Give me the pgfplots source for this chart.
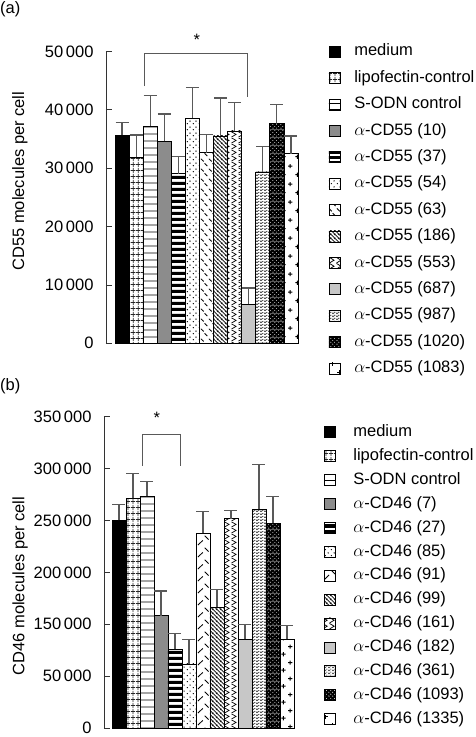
\documentclass[border=0pt]{standalone}
\usepackage{fontspec}
\setmainfont{Liberation Sans}
\usepackage{pgfplots}
\pgfplotsset{compat=1.18}
\usetikzlibrary{patterns}

\pgfdeclarepatternformonly{pgrid}{\pgfqpoint{0pt}{0pt}}{\pgfqpoint{4.5pt}{5.5pt}}{\pgfqpoint{4.5pt}{5.5pt}}{%
 \pgfsetlinewidth{0.8pt}%
 \pgfpathmoveto{\pgfqpoint{2.25pt}{0pt}}\pgfpathlineto{\pgfqpoint{2.25pt}{5.5pt}}%
 \pgfpathmoveto{\pgfqpoint{0pt}{2.75pt}}\pgfpathlineto{\pgfqpoint{4.5pt}{2.75pt}}%
 \pgfusepath{stroke}}
\pgfdeclarepatternformonly{phl}{\pgfqpoint{0pt}{0pt}}{\pgfqpoint{20pt}{6.5pt}}{\pgfqpoint{20pt}{6.5pt}}{%
 \pgfsetlinewidth{1pt}%
 \pgfpathmoveto{\pgfqpoint{-1pt}{3.25pt}}\pgfpathlineto{\pgfqpoint{21pt}{3.25pt}}%
 \pgfusepath{stroke}}
\pgfdeclarepatternformonly{pthick}{\pgfqpoint{0pt}{0pt}}{\pgfqpoint{20pt}{5.5pt}}{\pgfqpoint{20pt}{5.5pt}}{%
 \pgfpathrectangle{\pgfqpoint{-1pt}{0pt}}{\pgfqpoint{22pt}{3.5pt}}%
 \pgfusepath{fill}}
\pgfdeclarepatternformonly{pdots}{\pgfqpoint{0pt}{0pt}}{\pgfqpoint{6pt}{6pt}}{\pgfqpoint{6pt}{6pt}}{%
 \pgfpathcircle{\pgfqpoint{1.5pt}{1.5pt}}{0.75pt}%
 \pgfpathcircle{\pgfqpoint{4.5pt}{4.5pt}}{0.75pt}%
 \pgfusepath{fill}}
\pgfdeclarepatternformonly{pdash}{\pgfqpoint{0pt}{0pt}}{\pgfqpoint{8pt}{10pt}}{\pgfqpoint{8pt}{10pt}}{%
 \pgfsetlinewidth{0.9pt}%
 \pgfpathmoveto{\pgfqpoint{1pt}{9pt}}\pgfpathlineto{\pgfqpoint{4pt}{6pt}}%
 \pgfpathmoveto{\pgfqpoint{5pt}{4pt}}\pgfpathlineto{\pgfqpoint{8pt}{1pt}}%
 \pgfusepath{stroke}}
\pgfdeclarepatternformonly{pnwl}{\pgfqpoint{0pt}{0pt}}{\pgfqpoint{4.2pt}{4.2pt}}{\pgfqpoint{4.2pt}{4.2pt}}{%
 \pgfsetlinewidth{0.9pt}%
 \pgfpathmoveto{\pgfqpoint{-0.5pt}{4.7pt}}\pgfpathlineto{\pgfqpoint{4.7pt}{-0.5pt}}%
 \pgfpathmoveto{\pgfqpoint{-1pt}{1pt}}\pgfpathlineto{\pgfqpoint{1pt}{-1pt}}%
 \pgfpathmoveto{\pgfqpoint{3.2pt}{5.2pt}}\pgfpathlineto{\pgfqpoint{5.2pt}{3.2pt}}%
 \pgfusepath{stroke}}
\pgfdeclarepatternformonly{pzig}{\pgfqpoint{0pt}{0pt}}{\pgfqpoint{7pt}{6pt}}{\pgfqpoint{7pt}{6pt}}{%
 \pgfsetlinewidth{0.8pt}%
 \pgfpathmoveto{\pgfqpoint{0.5pt}{0pt}}\pgfpathlineto{\pgfqpoint{5.5pt}{3pt}}\pgfpathlineto{\pgfqpoint{0.5pt}{6pt}}%
 \pgfusepath{stroke}}
\pgfdeclarepatternformonly{pdashes}{\pgfqpoint{0pt}{0pt}}{\pgfqpoint{4pt}{3pt}}{\pgfqpoint{4pt}{3pt}}{%
 \pgfsetlinewidth{0.8pt}%
 \pgfpathmoveto{\pgfqpoint{0pt}{0.75pt}}\pgfpathlineto{\pgfqpoint{2.4pt}{0.75pt}}%
 \pgfpathmoveto{\pgfqpoint{2pt}{2.25pt}}\pgfpathlineto{\pgfqpoint{4pt}{2.25pt}}%
 \pgfpathmoveto{\pgfqpoint{0pt}{2.25pt}}\pgfpathlineto{\pgfqpoint{0.4pt}{2.25pt}}%
 \pgfusepath{stroke}}
\pgfdeclarepatternformonly{pbdots}{\pgfqpoint{0pt}{0pt}}{\pgfqpoint{8pt}{8pt}}{\pgfqpoint{8pt}{8pt}}{%
 \pgfpathrectangle{\pgfqpoint{-0.5pt}{-0.5pt}}{\pgfqpoint{9pt}{9pt}}%
 \pgfpathcircle{\pgfqpoint{1pt}{1pt}}{0.8pt}%
 \pgfpathcircle{\pgfqpoint{3pt}{3pt}}{0.8pt}%
 \pgfpathcircle{\pgfqpoint{5pt}{1pt}}{0.8pt}%
 \pgfpathcircle{\pgfqpoint{7pt}{3pt}}{0.8pt}%
 \pgfpathcircle{\pgfqpoint{1pt}{5pt}}{0.8pt}%
 \pgfpathcircle{\pgfqpoint{3pt}{7pt}}{0.8pt}%
 \pgfpathcircle{\pgfqpoint{5pt}{5pt}}{0.8pt}%
 \pgfpathcircle{\pgfqpoint{7pt}{7pt}}{0.8pt}%
 \pgfseteorule\pgfusepath{fill}}
\pgfdeclarepatternformonly{pplus}{\pgfqpoint{0pt}{0pt}}{\pgfqpoint{14pt}{18pt}}{\pgfqpoint{14pt}{18pt}}{%
 \pgfsetlinewidth{1pt}%
 \pgfpathmoveto{\pgfqpoint{3.5pt}{2.3pt}}\pgfpathlineto{\pgfqpoint{3.5pt}{6.7pt}}%
 \pgfpathmoveto{\pgfqpoint{1.3pt}{4.5pt}}\pgfpathlineto{\pgfqpoint{5.7pt}{4.5pt}}%
 \pgfpathmoveto{\pgfqpoint{10.5pt}{11.3pt}}\pgfpathlineto{\pgfqpoint{10.5pt}{15.7pt}}%
 \pgfpathmoveto{\pgfqpoint{8.3pt}{13.5pt}}\pgfpathlineto{\pgfqpoint{12.7pt}{13.5pt}}%
 \pgfusepath{stroke}}
\pgfdeclarepatternformonly{pplustwo}{\pgfqpoint{0pt}{0pt}}{\pgfqpoint{14pt}{16pt}}{\pgfqpoint{14pt}{16pt}}{%
 \pgfsetlinewidth{1pt}%
 \pgfpathmoveto{\pgfqpoint{3.5pt}{1.8pt}}\pgfpathlineto{\pgfqpoint{3.5pt}{6.2pt}}%
 \pgfpathmoveto{\pgfqpoint{1.3pt}{4pt}}\pgfpathlineto{\pgfqpoint{5.7pt}{4pt}}%
 \pgfpathmoveto{\pgfqpoint{10.5pt}{9.8pt}}\pgfpathlineto{\pgfqpoint{10.5pt}{14.2pt}}%
 \pgfpathmoveto{\pgfqpoint{8.3pt}{12pt}}\pgfpathlineto{\pgfqpoint{12.7pt}{12pt}}%
 \pgfusepath{stroke}}
\pgfdeclarepatternformonly{pbig}{\pgfqpoint{0pt}{0pt}}{\pgfqpoint{14pt}{12pt}}{\pgfqpoint{14pt}{12pt}}{%
 \pgfsetlinewidth{0.9pt}%
 \pgfpathmoveto{\pgfqpoint{2pt}{1pt}}\pgfpathlineto{\pgfqpoint{7pt}{6pt}}%
 \pgfpathmoveto{\pgfqpoint{9pt}{11pt}}\pgfpathlineto{\pgfqpoint{13pt}{7pt}}%
 \pgfusepath{stroke}}

\definecolor{errgray}{gray}{0.35}
\newcommand{\fs}{\fontsize{16.5}{19.8}\selectfont}

\pgfplotsset{
 mybase/.style={
  scale only axis, ybar, bar width=1,
  axis x line=none, axis y line=left,
  axis line style={-, black!80, line width=0.9pt},
  xtick=\empty, tick align=inside, major tick length=6pt,
  ytick style={black!80, line width=0.9pt},
  scaled y ticks=false, clip=false, ymin=0,
  font=\fs,
  yticklabel style={xshift=-9pt},
  legend cell align=left,
  legend style={draw=none, fill=none, anchor=north west, font=\fs,
    nodes={inner sep=0pt, text height=12pt, text depth=3.5pt, anchor=west}},
 },
 b/.style={draw=black, line width=0.7pt, bar shift=0pt, #1,
  legend image code/.code={\draw[##1, line width=0.6pt] (0pt,-5.5pt) rectangle (11pt,5.5pt);},
  error bars/.cd, y dir=plus, y explicit,
  error bar style={errgray, line width=1.1pt},
  error mark options={rotate=90, errgray, mark size=6.5pt, line width=1.1pt}},
}

\begin{document}
\begin{tikzpicture}
\useasboundingbox (0,0) rectangle (475pt,737pt);
\node[anchor=north west, inner sep=0pt, font=\fs] at (0pt,736pt) {(a)};
\node[anchor=north west, inner sep=0pt, font=\fs] at (0pt,359pt) {(b)};

% ---------------- (a) CD55 ----------------
\begin{axis}[mybase,
  at={(106pt,393.7pt)}, anchor=south west,
  width=192pt, height=291.7pt,
  xmin=-1.14, xmax=12.5, ymax=50000,
  ytick={0,10000,20000,30000,40000,50000},
  yticklabels={0,10\,000,20\,000,30\,000,40\,000,50\,000},
  ylabel={CD55 molecules per cell},
  ylabel style={at={(axis description cs:-0.448,0.556)}, anchor=center},
  legend style={at={(axis description cs:1.143,1.034)}, row sep=10.9pt, column sep=14pt},
]
\addplot[b={fill=black}] coordinates {(0,35700) +- (0,2200)};
\addplot[b={pattern=pgrid, pattern color=black!85}] coordinates {(1,31900) +- (0,3800)};
\addplot[b={pattern=phl}] coordinates {(2,37250) +- (0,5200)};
\addplot[b={fill=black!45}] coordinates {(3,34600) +- (0,4700)};
\addplot[b={pattern=pthick}] coordinates {(4,29100) +- (0,2950)};
\addplot[b={pattern=pdots}] coordinates {(5,38570) +- (0,5200)};
\addplot[b={pattern=pdash}] coordinates {(6,32700) +- (0,3060)};
\addplot[b={pattern=pnwl}] coordinates {(7,35540) +- (0,6510)};
\addplot[b={pattern=pzig}] coordinates {(8,36400) +- (0,4850)};
\addplot[b={fill=black!22}] coordinates {(9,6690) +- (0,2790)};
\addplot[b={pattern=pdashes}] coordinates {(10,29370) +- (0,4330)};
\addplot[b={pattern=pbdots}] coordinates {(11,37650) +- (0,3320)};
\addplot[b={pattern=pplus}] coordinates {(12,32500) +- (0,3040)};
\legend{medium,lipofectin-control,S-ODN control,
 $\alpha$-CD55 (10),$\alpha$-CD55 (37),$\alpha$-CD55 (54),$\alpha$-CD55 (63),
 $\alpha$-CD55 (186),$\alpha$-CD55 (553),$\alpha$-CD55 (687),$\alpha$-CD55 (987),
 $\alpha$-CD55 (1020),$\alpha$-CD55 (1083)}
\draw[errgray, line width=1pt] (axis cs:1.63,44100) |- (axis cs:8.9,49600) -- (axis cs:8.9,42300);
\node[font=\fs] at (axis cs:5.32,52000) {*};
\end{axis}

% ---------------- (b) CD46 ----------------
\begin{axis}[mybase,
  at={(104pt,9pt)}, anchor=south west,
  width=190pt, height=311.3pt,
  xmin=-1.07, xmax=12.5, ymax=300000,
  ytick={0,50000,100000,150000,200000,250000,300000},
  yticklabels={0,50\,000,150\,000,200\,000,250\,000,300\,000,350\,000},
  ylabel={CD46 molecules per cell},
  ylabel style={at={(axis description cs:-0.442,0.456)}, anchor=center},
  legend style={at={(axis description cs:1.14,0.982)}, row sep=8.4pt, column sep=18pt},
]
\addplot[b={fill=black}] coordinates {(0,200100) +- (0,15000)};
\addplot[b={pattern=pgrid, pattern color=black!85}] coordinates {(1,221300) +- (0,23700)};
\addplot[b={pattern=phl}] coordinates {(2,223200) +- (0,14500)};
\addplot[b={fill=black!45}] coordinates {(3,108200) +- (0,23800)};
\addplot[b={pattern=pthick}] coordinates {(4,75800) +- (0,15400)};
\addplot[b={pattern=pdots}] coordinates {(5,61700) +- (0,23800)};
\addplot[b={pattern=pbig}] coordinates {(6,187600) +- (0,21400)};
\addplot[b={pattern=pnwl}] coordinates {(7,116300) +- (0,17600)};
\addplot[b={pattern=pzig}] coordinates {(8,201600) +- (0,8100)};
\addplot[b={fill=black!22}] coordinates {(9,85500) +- (0,14000)};
\addplot[b={pattern=pdashes}] coordinates {(10,210700) +- (0,43300)};
\addplot[b={pattern=pbdots}] coordinates {(11,197200) +- (0,26000)};
\addplot[b={pattern=pplustwo}] coordinates {(12,85500) +- (0,13100)};
\legend{medium,lipofectin-control,S-ODN control,
 $\alpha$-CD46 (7),$\alpha$-CD46 (27),$\alpha$-CD46 (85),$\alpha$-CD46 (91),
 $\alpha$-CD46 (99),$\alpha$-CD46 (161),$\alpha$-CD46 (182),$\alpha$-CD46 (361),
 $\alpha$-CD46 (1093),$\alpha$-CD46 (1335)}
\draw[errgray, line width=1pt] (axis cs:1.69,252700) |- (axis cs:4.38,283200) -- (axis cs:4.38,252700);
\node[font=\fs] at (axis cs:2.71,299000) {*};
\end{axis}
\end{tikzpicture}
\end{document}
